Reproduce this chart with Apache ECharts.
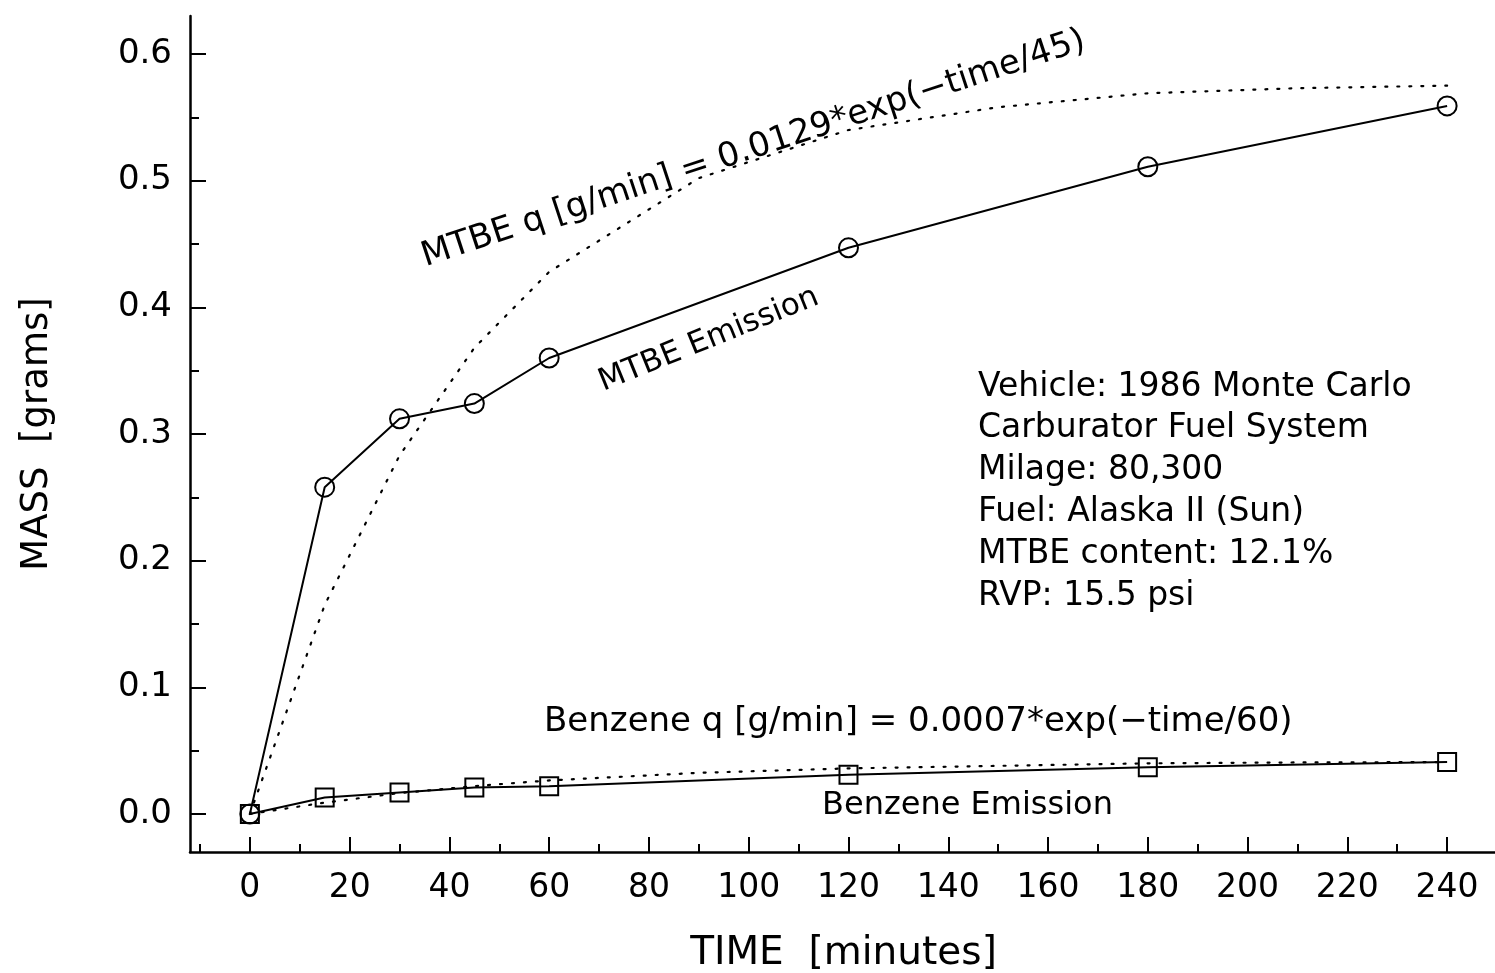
<!DOCTYPE html>
<html><head><meta charset="utf-8">
<script src="https://cdn.jsdelivr.net/npm/echarts@6/dist/echarts.min.js"></script>
<style>html,body{margin:0;padding:0;background:#fff}#c{width:1495px;height:973px}</style>
</head><body><div id="c"></div>
<script>
// ---- data ----
const times = [0, 15, 30, 45, 60, 120, 180, 240];
const mtbeMass = [0, 0.258, 0.312, 0.324, 0.360, 0.447, 0.511, 0.559];
const benzeneMass = [0, 0.013, 0.017, 0.021, 0.022, 0.031, 0.037, 0.041];
const fitTimes = [0, 15, 30, 45, 60, 90, 120, 150, 180, 210, 240];
const mtbeFit = [0, 0.165, 0.283, 0.368, 0.428, 0.502, 0.540, 0.558, 0.569, 0.573, 0.575];
const benzeneFit = [0, 0.009, 0.0165, 0.022, 0.0265, 0.0325, 0.036, 0.038, 0.040, 0.0407, 0.041];
const xMajorTicks = [0, 20, 40, 60, 80, 100, 120, 140, 160, 180, 200, 220, 240];
const xMinorTicks = [-10, 10, 30, 50, 70, 90, 110, 130, 150, 170, 190, 210, 230];
const yMajorTicks = [0, 0.1, 0.2, 0.3, 0.4, 0.5, 0.6];
const yMinorTicks = [0.05, 0.15, 0.25, 0.35, 0.45, 0.55];
const infoLines = ['Vehicle: 1986 Monte Carlo', 'Carburator Fuel System', 'Milage: 80,300',
  'Fuel: Alaska II (Sun)', 'MTBE content: 12.1%', 'RVP: 15.5 psi'];

const FONT = 'DejaVu Sans';
const pair = (xs, ys) => xs.map((x, i) => [x, ys[i]]);
const XMIN = -12, XMAX = 250, YMIN = -0.03, YMAX = 0.63;

function xAxisDef(ticks, len, labels) {
  return {
    type: 'value', min: XMIN, max: XMAX, position: 'bottom', offset: 0,
    axisLine: { show: labels, onZero: false, lineStyle: { color: '#000', width: 2.5 } },
    splitLine: { show: false },
    axisTick: { show: true, inside: true, length: len, customValues: ticks, lineStyle: { color: '#000', width: 2 } },
    axisLabel: labels ? { show: true, customValues: ticks, margin: 20, fontSize: 33, fontFamily: FONT, color: '#000' } : { show: false },
    name: labels ? 'TIME  [minutes]' : '', nameLocation: 'middle', nameGap: 82,
    nameTextStyle: { fontSize: 39, fontFamily: FONT, color: '#000' }
  };
}
function yAxisDef(ticks, len, labels) {
  return {
    type: 'value', min: YMIN, max: YMAX, position: 'left', offset: 0,
    axisLine: { show: labels, onZero: false, lineStyle: { color: '#000', width: 2.5 } },
    splitLine: { show: false },
    axisTick: { show: true, inside: true, length: len, customValues: ticks, lineStyle: { color: '#000', width: 2 } },
    axisLabel: labels ? { show: true, customValues: ticks, margin: 18, fontSize: 34, fontFamily: FONT, color: '#000',
      formatter: v => v.toFixed(1) } : { show: false },
    name: labels ? 'MASS  [grams]' : '', nameLocation: 'middle', nameGap: 134, nameRotate: 90,
    nameTextStyle: { fontSize: 37, fontFamily: FONT, color: '#000' }
  };
}

const chart = echarts.init(document.getElementById('c'), null, { renderer: 'canvas' });
const txt = (t, x, y, rot, size, va) => ({
  type: 'text', x, y, rotation: rot * Math.PI / 180,
  style: { text: t, fontSize: size, fontFamily: FONT, fill: '#000', textVerticalAlign: va }
});

chart.setOption({
  animation: false,
  backgroundColor: '#fff',
  grid: { left: 190, right: -2, top: 16, bottom: 121, containLabel: false, outerBoundsMode: 'none' },
  xAxis: [xAxisDef(xMajorTicks, 15, true), xAxisDef(xMinorTicks, 8, false)],
  yAxis: [yAxisDef(yMajorTicks, 16, true), yAxisDef(yMinorTicks, 9, false)],
  series: [
    { type: 'line', data: pair(fitTimes, mtbeFit), symbol: 'none', z: 1,
      lineStyle: { color: '#000', width: 2.2, type: [2, 10], cap: 'round' } },
    { type: 'line', data: pair(fitTimes, benzeneFit), symbol: 'none', z: 1,
      lineStyle: { color: '#000', width: 2.2, type: [2, 10], cap: 'round' } },
    { type: 'line', data: pair(times, mtbeMass), symbol: 'circle', symbolSize: 19, z: 3,
      lineStyle: { color: '#000', width: 2 },
      itemStyle: { color: 'rgba(255,255,255,0)', borderColor: '#000', borderWidth: 2 } },
    { type: 'line', data: pair(times, benzeneMass), symbol: 'rect', symbolSize: 18, z: 3,
      lineStyle: { color: '#000', width: 2 },
      itemStyle: { color: 'rgba(255,255,255,0)', borderColor: '#000', borderWidth: 2 } }
  ],
  graphic: [
    txt('MTBE q [g/min] = 0.0129*exp(\u2212time/45)', 428, 274, 18.2, 34, 'bottom'),
    txt('MTBE Emission', 606, 398, 22, 31, 'bottom'),
    txt('Benzene q [g/min] = 0.0007*exp(\u2212time/60)', 544, 722, 0, 34, 'middle'),
    txt('Benzene Emission', 822, 806, 0, 32, 'middle')
  ].concat(infoLines.map((l, i) => txt(l, 978, 387 + i * 41.8, 0, 33, 'middle')))
});
</script>
</body></html>
